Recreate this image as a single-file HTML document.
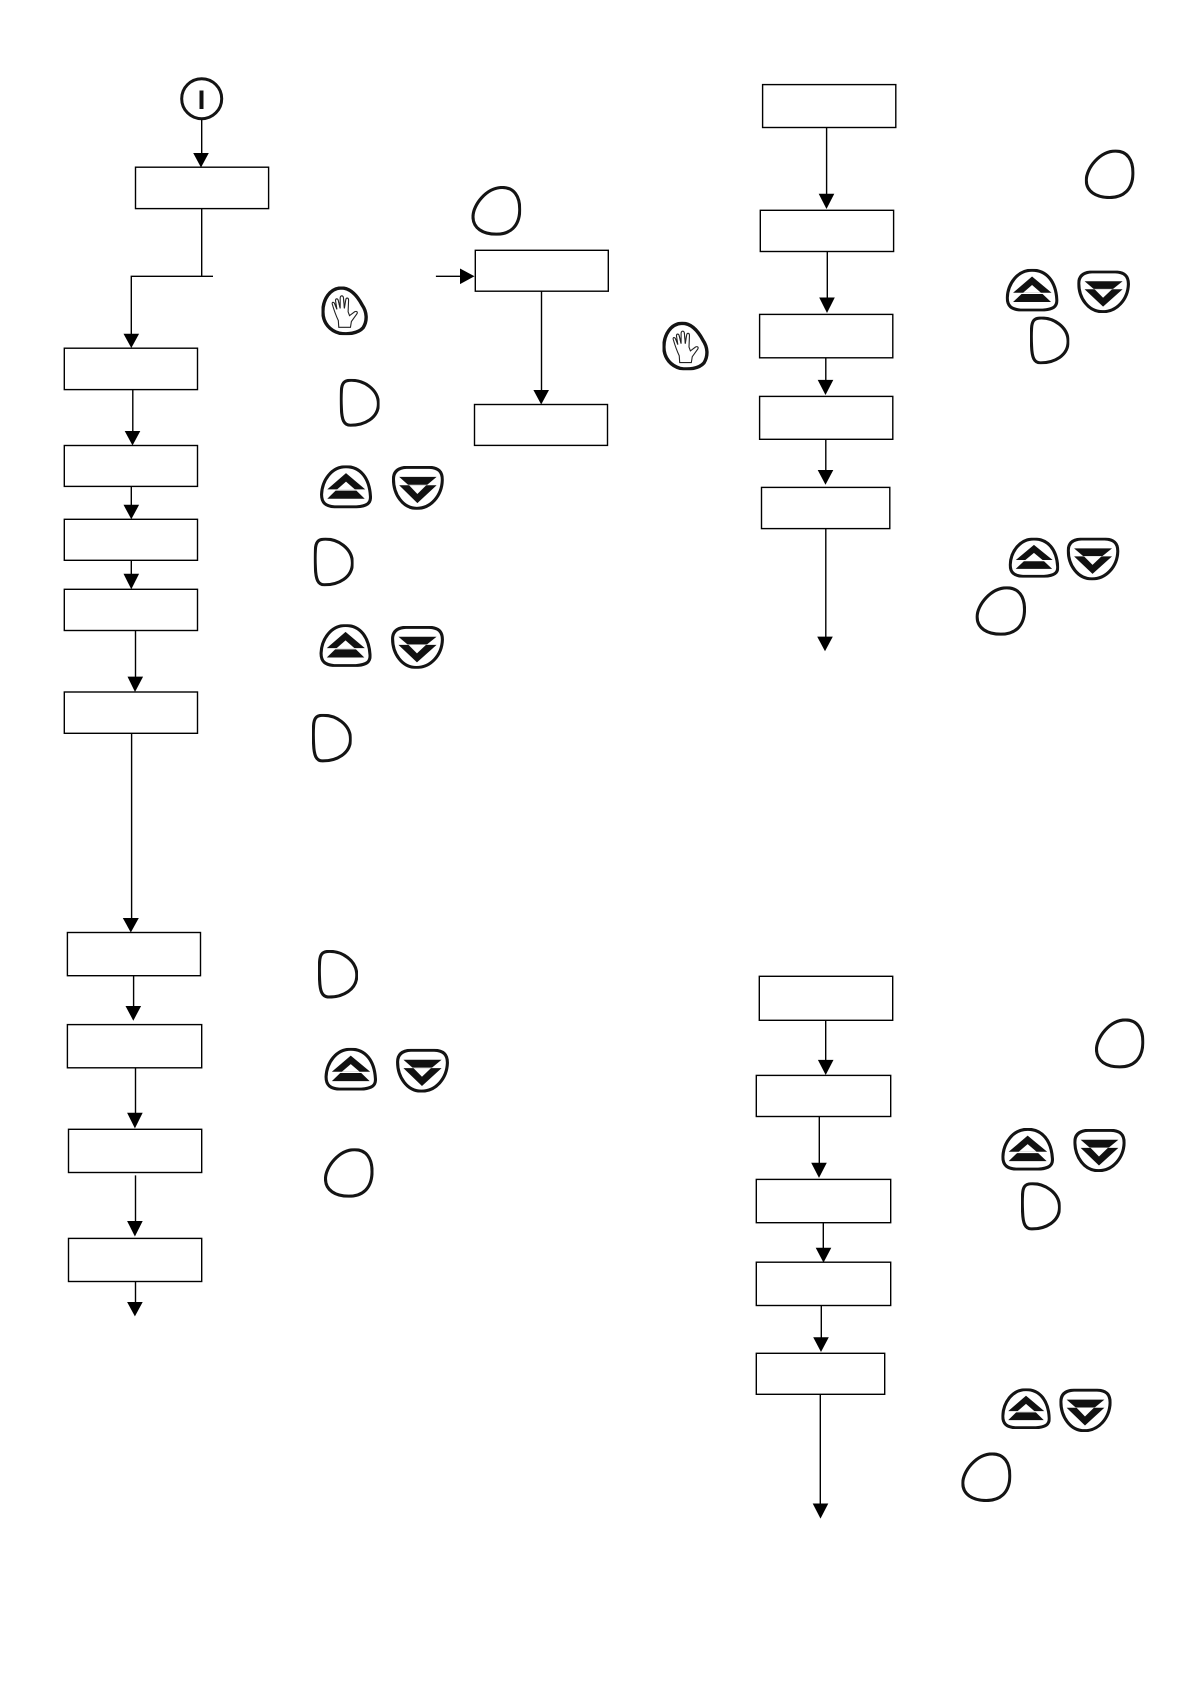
<!DOCTYPE html>
<html>
<head>
<meta charset="utf-8">
<style>
html,body{margin:0;padding:0;background:#fff;width:1190px;height:1684px;overflow:hidden}
svg{display:block}
.b{fill:#fff;stroke:#000;stroke-width:1.4}
.l{fill:none;stroke:#000;stroke-width:1.4}
.s{fill:none;stroke:#141414;stroke-width:3.1;vector-effect:non-scaling-stroke}
.h{fill:none;stroke:#222;stroke-width:.9;vector-effect:non-scaling-stroke}
.k{fill:#111}
.w{fill:#fff}
</style>
</head>
<body>
<svg width="1190" height="1684" viewBox="0 0 1190 1684" xmlns="http://www.w3.org/2000/svg">
<defs>
<symbol id="O" viewBox="0 0 100 100" preserveAspectRatio="none"><path class="s" d="M62 3C85 3 98 20 97 50C96 81 78 97 50 97C23 97 3 85 3 62C3 38 30 3 62 3Z"/></symbol>
<symbol id="D" viewBox="0 0 100 100" preserveAspectRatio="none"><path class="s" d="M24 3C60 1 97 22 97 52C97 82 62 97 27 97C10 97 5 85 4 62C3 48 3 36 4 24C5 10 10 4 24 3Z"/></symbol>
<symbol id="U" viewBox="0 0 100 100" preserveAspectRatio="none"><path class="s" d="M50 3C78 3 95 30 97 72C98 89 90 95 70 97L28 97C11 95 3 88 3 68C4 35 22 3 50 3Z"/><polygon class="k" points="50,18 87,56 14,56"/><polygon class="w" points="50,38 67,56 33,56"/><polygon class="k" points="30,59 70,59 86,78 14,78"/></symbol>
<symbol id="V" viewBox="0 0 100 100" preserveAspectRatio="none"><path class="s" d="M28 3L72 3C89 4 97 12 97 32C96 68 75 97 48 97C21 97 3 65 3 30C3 12 12 4 28 3Z"/><polygon class="k" points="14,25 86,25 68,43 31,43"/><polygon class="k" points="14,44 86,44 49,85"/><polygon class="w" points="33,44 66,44 49,64"/></symbol>
<symbol id="H" viewBox="0 0 100 100" preserveAspectRatio="none"><path class="s" style="stroke-width:3.4" d="M42 3C62 3 76 18 87 38C97 52 99 70 89 85C78 97 55 99 38 96C19 91 3 76 3 52C3 26 18 4 42 3Z"/><path class="h" style="stroke-width:1.1" d="M37 84L36 70C30 58 26 46 23 36C22 32 26 31 28 35L33 47L30 29C30 24 35 24 36 29L40 45L40 23C41 18 46 18 47 23L49 45L52 27C53 22 58 23 58 28L57 52L60 60L71 52C75 50 78 52 76 56L64 72L62 84L37 84ZM37 84L62 84"/><path class="h" d="M28 35L33 47M36 29L40 45M47 23L49 45"/></symbol>
</defs>

<!-- start circle -->
<circle cx="201.7" cy="98.7" r="20" fill="#fff" stroke="#141414" stroke-width="3"/>
<rect x="199.5" y="90.5" width="4" height="18.5" class="k"/>

<!-- connectors -->
<path class="l" d="M201.7 119.6V154M201.7 208.6V276.3M213 276.3H131.3V335M132.8 389.6V432M131.3 486.4V506M131.3 560.3V575M135.5 630.5V678M131.6 733.3V919M133.6 975.7V1007M135.5 1067.8V1114M135.5 1175.4V1222M135.5 1281.5V1303"/>
<path class="l" d="M435.9 276.3H461M541.5 291.2V391"/>
<path class="l" d="M826.6 127.5V195M827.3 251.5V299M825.8 357.8V381M825.8 439.3V471M825.8 528.6V638"/>
<path class="l" d="M825.7 1020.3V1061M819.3 1116.5V1164M823.3 1222.7V1249M821.3 1306V1338M820.3 1394.3V1505"/>

<!-- arrowheads -->
<g fill="#000">
<polygon points="193.2,153 208.8,153 201,167.5"/>
<polygon points="123.5,333.7 139.1,333.7 131.3,348"/>
<polygon points="124.7,431 140.3,431 132.5,445.5"/>
<polygon points="123.5,504.8 139.1,504.8 131.3,519.3"/>
<polygon points="123.5,573.7 139.1,573.7 131.3,589.3"/>
<polygon points="127.5,676.6 143.1,676.6 135,692"/>
<polygon points="122.8,918 138.8,918 130.8,932.5"/>
<polygon points="125.5,1006 141.1,1006 133.3,1020.7"/>
<polygon points="127.1,1112.8 142.7,1112.8 134.9,1128.4"/>
<polygon points="127.1,1221 142.7,1221 134.9,1236.5"/>
<polygon points="127.1,1302 142.7,1302 134.9,1316.4"/>
<polygon points="460,268.5 460,284.1 474.5,276.3"/>
<polygon points="533.4,390 549,390 541.2,404.5"/>
<polygon points="818.7,193.8 834.3,193.8 826.5,209"/>
<polygon points="819.2,297.5 834.8,297.5 827,313"/>
<polygon points="817.7,379.9 833.3,379.9 825.5,395"/>
<polygon points="817.7,470 833.3,470 825.5,484.8"/>
<polygon points="817.2,636.6 832.8,636.6 825,651.3"/>
<polygon points="817.9,1059.9 833.5,1059.9 825.7,1075"/>
<polygon points="811.2,1162.7 826.8,1162.7 819,1177.9"/>
<polygon points="815.7,1247.8 831.3,1247.8 823.5,1262.6"/>
<polygon points="813.2,1337.3 828.8,1337.3 821,1352"/>
<polygon points="812.7,1503.5 828.3,1503.5 820.5,1518.6"/>
</g>

<!-- boxes -->
<rect class="b" x="135.5" y="167.2" width="133.1" height="41.4"/>
<rect class="b" x="64.3" y="348.2" width="133.2" height="41.4"/>
<rect class="b" x="64.3" y="445.5" width="133.2" height="40.9"/>
<rect class="b" x="64.3" y="519.3" width="133.2" height="41"/>
<rect class="b" x="64.3" y="589.3" width="133.2" height="41.2"/>
<rect class="b" x="64.3" y="692" width="133.2" height="41.3"/>
<rect class="b" x="67.4" y="932.5" width="133.1" height="43.2"/>
<rect class="b" x="67.4" y="1024.6" width="134.3" height="43.2"/>
<rect class="b" x="68.5" y="1129.3" width="133.2" height="43.2"/>
<rect class="b" x="68.5" y="1238.4" width="133.2" height="43.1"/>
<rect class="b" x="475.3" y="250.3" width="133" height="40.9"/>
<rect class="b" x="474.5" y="404.5" width="133" height="40.9"/>
<rect class="b" x="762.6" y="84.6" width="133.2" height="42.9"/>
<rect class="b" x="760.3" y="210.3" width="133.3" height="41.2"/>
<rect class="b" x="759.6" y="314.4" width="133.2" height="43.4"/>
<rect class="b" x="759.6" y="396.4" width="133.2" height="42.9"/>
<rect class="b" x="761.5" y="487.4" width="128.3" height="41.2"/>
<rect class="b" x="759.3" y="976.3" width="133.4" height="44"/>
<rect class="b" x="756.3" y="1075.4" width="134.4" height="41.1"/>
<rect class="b" x="756.3" y="1179.4" width="134.4" height="43.3"/>
<rect class="b" x="756.3" y="1262.2" width="134.4" height="43.3"/>
<rect class="b" x="756.3" y="1353.3" width="128.4" height="41"/>

<!-- icons -->
<use href="#H" x="321.5" y="286.5" width="46.7" height="48.6"/>
<use href="#H" x="662.5" y="321.8" width="46.5" height="48.5"/>
<use href="#O" x="471.5" y="186" width="49.7" height="49.7"/>
<use href="#O" x="1084.8" y="149.6" width="49.6" height="49.4"/>
<use href="#O" x="975.6" y="586.3" width="50.4" height="49.4"/>
<use href="#O" x="324" y="1148.2" width="49.5" height="49.5"/>
<use href="#O" x="1095" y="1018.4" width="49.3" height="50"/>
<use href="#O" x="961.3" y="1452.4" width="50" height="49.6"/>
<use href="#D" x="339.8" y="378.9" width="39.8" height="47.8"/>
<use href="#D" x="313.8" y="537.7" width="39.8" height="48.6"/>
<use href="#D" x="312" y="713.9" width="39.7" height="48.5"/>
<use href="#D" x="318" y="950" width="40" height="48.5"/>
<use href="#D" x="1030" y="316.6" width="39.3" height="47.7"/>
<use href="#D" x="1021" y="1182.3" width="39.7" height="48.1"/>
<use href="#U" x="320" y="465.4" width="52" height="42.8"/>
<use href="#V" x="391.9" y="466" width="52" height="43.7"/>
<use href="#U" x="319.5" y="624.2" width="52.1" height="42.7"/>
<use href="#V" x="391" y="626" width="53" height="42.8"/>
<use href="#U" x="324.5" y="1047.9" width="52.5" height="42.6"/>
<use href="#V" x="396" y="1048.9" width="53" height="43.6"/>
<use href="#U" x="1005.7" y="268.9" width="52.7" height="42.5"/>
<use href="#V" x="1077.2" y="270.6" width="52.8" height="42.4"/>
<use href="#U" x="1008.7" y="537.7" width="50.5" height="39.9"/>
<use href="#V" x="1066.7" y="537.7" width="52.7" height="42.5"/>
<use href="#U" x="1001.3" y="1128" width="52.7" height="42.5"/>
<use href="#V" x="1073.3" y="1129" width="52.4" height="43"/>
<use href="#U" x="1001.3" y="1388.4" width="49.4" height="40.6"/>
<use href="#V" x="1059.3" y="1388.8" width="52.4" height="43.2"/>
</svg>
</body>
</html>
